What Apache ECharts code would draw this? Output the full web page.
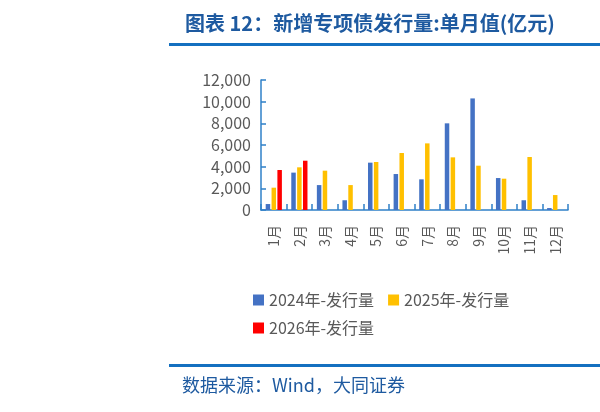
<!DOCTYPE html>
<html>
<head>
<meta charset="utf-8">
<script src="https://cdn.jsdelivr.net/npm/echarts@6/dist/echarts.min.js"></script>
<style>
  html, body { margin: 0; padding: 0; background: #fff; }
  #main { width: 600px; height: 412px; }
</style>
</head>
<body>
<div id="main"></div>
<script>
// 月份
var months = ["1月", "2月", "3月", "4月", "5月", "6月", "7月", "8月", "9月", "10月", "11月", "12月"];
// 单月发行量(亿元)
var issue2024 = [550, 3450, 2300, 900, 4370, 3320, 2830, 8000, 10300, 2950, 900, 180];
var issue2025 = [2060, 3940, 3630, 2300, 4430, 5260, 6150, 4860, 4090, 2890, 4890, 1380];
var issue2026 = [3690, 4550, null, null, null, null, null, null, null, null, null, null];
var seriesNames = ["2024年-发行量", "2025年-发行量", "2026年-发行量"];

var axisBlue = "#2F80C8";
var textGray = "#595959";
var titleBlue = "#1E5AA0";

var chart = echarts.init(document.getElementById("main"));

// 图例分两行
var legendBase = {
  left: 248,
  itemWidth: 11,
  itemHeight: 11,
  itemGap: 14,
  icon: "rect",
  textStyle: { color: textGray, fontSize: 16 }
};

var option = {
  backgroundColor: "#fff",
  animation: false,
  textStyle: { fontFamily: "Noto Sans CJK SC" },
  title: {
    text: "图表 12：新增专项债发行量:单月值(亿元)",
    left: 180,
    top: 8,
    textStyle: {
      color: titleBlue,
      fontSize: 20,
      fontWeight: "bold",
      fontFamily: "Noto Sans CJK SC"
    }
  },
  graphic: [
    { type: "rect", shape: { x: 169, y: 43, width: 431, height: 3 }, style: { fill: "#1470C0" } },
    { type: "rect", shape: { x: 169, y: 364, width: 431, height: 3 }, style: { fill: "#1470C0" } },
    {
      type: "text",
      left: 182,
      top: 376,
      style: {
        text: "数据来源：Wind，大同证券",
        fill: titleBlue,
        fontSize: 18,
        fontFamily: "Noto Sans CJK SC"
      }
    }
  ],
  legend: [
    Object.assign({}, legendBase, { data: seriesNames.slice(0, 2), top: 287 }),
    Object.assign({}, legendBase, { data: seriesNames.slice(2), top: 315 })
  ],
  grid: {
    left: 261,
    right: 32,
    top: 80,
    bottom: 202,
    containLabel: false
  },
  xAxis: {
    type: "category",
    data: months,
    axisLine: { show: true, lineStyle: { color: axisBlue, width: 1.5 } },
    axisTick: { show: true, inside: true, length: 6, lineStyle: { color: axisBlue, width: 1.5 } },
    axisLabel: {
      rotate: 90,
      margin: 15,
      color: textGray,
      fontSize: 14
    }
  },
  yAxis: {
    type: "value",
    min: 0,
    max: 12000,
    interval: 2000,
    splitLine: { show: false },
    axisLine: { show: true, lineStyle: { color: axisBlue, width: 1.5 } },
    axisTick: { show: true, inside: true, length: 5, lineStyle: { color: axisBlue, width: 1.5 } },
    axisLabel: {
      margin: 10,
      color: textGray,
      fontSize: 16,
      formatter: function (v) {
        return v.toLocaleString("en-US");
      }
    }
  },
  series: [
    {
      name: seriesNames[0],
      type: "bar",
      barWidth: 4.5,
      barGap: "30%",
      itemStyle: { color: "#4472C4" },
      data: issue2024
    },
    {
      name: seriesNames[1],
      type: "bar",
      barWidth: 4.5,
      barGap: "30%",
      itemStyle: { color: "#FFC000" },
      data: issue2025
    },
    {
      name: seriesNames[2],
      type: "bar",
      barWidth: 4.5,
      barGap: "30%",
      itemStyle: { color: "#FF0000" },
      data: issue2026
    }
  ]
};

chart.setOption(option);
</script>
</body>
</html>
